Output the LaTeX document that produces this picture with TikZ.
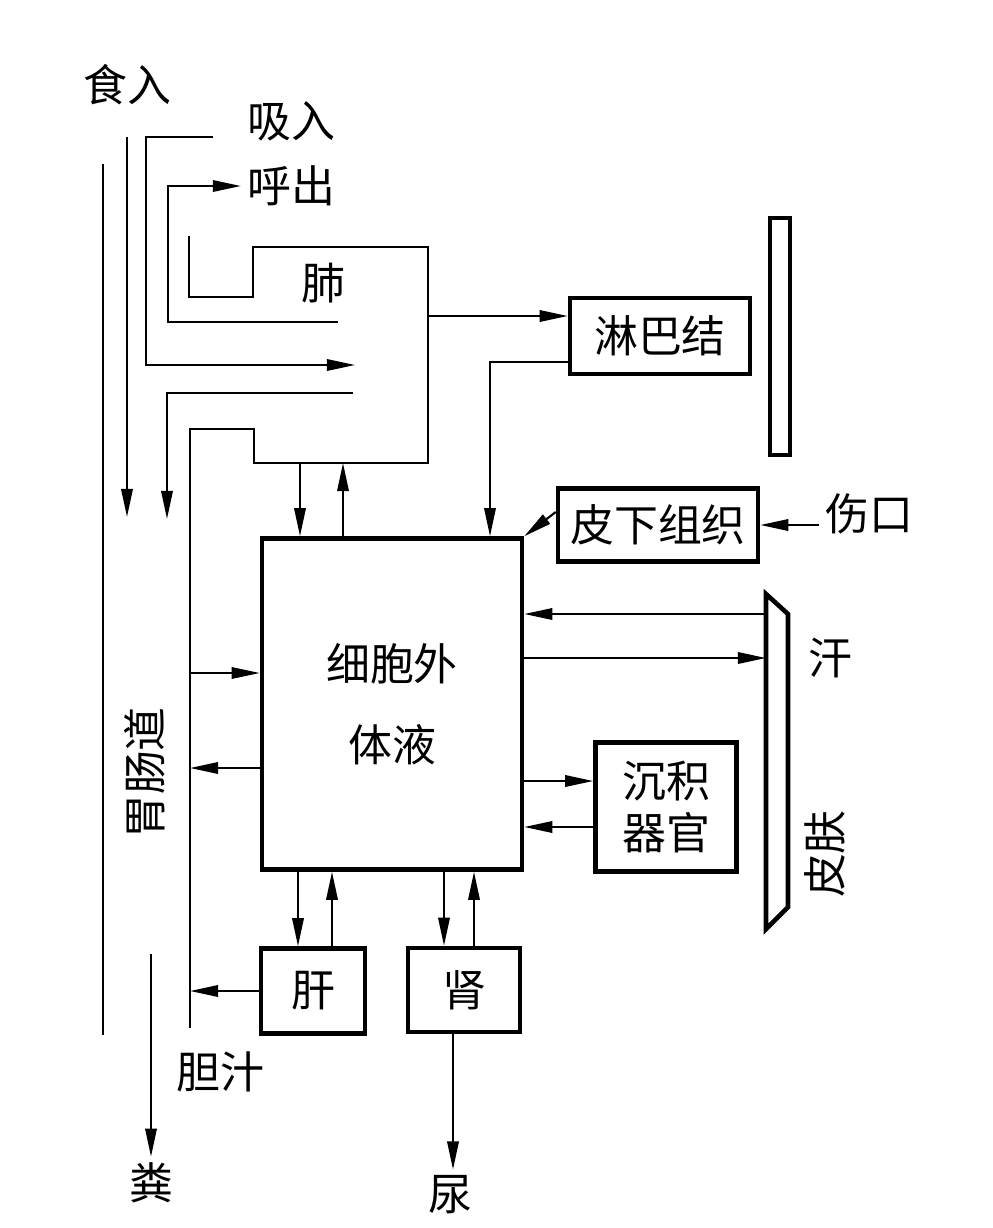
\documentclass[tikz,border=0pt]{standalone}
\usepackage{fontspec}
\newfontfamily\cjk{Noto Sans CJK SC}
\usetikzlibrary{positioning, arrows.meta}
\tikzset{
    txt/.style={font=\cjk\fontsize{25}{30}\selectfont, inner sep=0.333em},
    boxnode/.style={rectangle, draw, line width=2.6pt, inner sep=0pt, align=center, font=\cjk\fontsize{25}{30}\selectfont},
    arrow/.style={-{Triangle[length=16pt, width=6.5pt]}, line width=1.2pt},
    wall/.style={line width=1.2pt},
    thickwall/.style={line width=2.6pt, line join=miter},
}

\begin{document}
\begin{tikzpicture}[x=0.02cm, y=-0.02cm]
    \useasboundingbox (0,0) rectangle (992,1228);

    % Testi liberi
    \node[txt] (shiru) at (127,85) {食入};
    \node[txt] (xiru) at (291,121) {吸入};
    \node[txt] (huchu) at (291,186) {呼出};
    \node[txt] (fei) at (323,283) {肺};
    \node[txt] (shangkou) at (869,514) {伤口};
    \node[txt] (han) at (830,658) {汗};
    \node[txt, rotate=90] (pifu) at (825,854) {皮肤};
    \node[txt, rotate=90] (weichang) at (145,773) {胃肠道};
    \node[txt] (danzhi) at (220,1072) {胆汁};
    \node[txt] (fen) at (151,1183) {粪};
    \node[txt] (niao) at (450,1195) {尿};

    % Riquadri
    \node[boxnode, minimum width=5.2cm, minimum height=6.62cm, font=\cjk\fontsize{25}{46}\selectfont] (ecf) at (392,704) {细胞外\\体液};
    \node[boxnode, minimum width=3.6cm, minimum height=1.52cm] (linba) at (660,336) {淋巴结};
    \node[boxnode, minimum width=4.0cm, minimum height=1.46cm] (pixia) at (658,525) {皮下组织};
    \node[boxnode, minimum width=2.82cm, minimum height=2.58cm] (chenji) at (666,807) {沉积\\器官};
    \node[boxnode, minimum width=2.08cm, minimum height=1.7cm] (gan) at (313,991) {肝};
    \node[boxnode, minimum width=2.24cm, minimum height=1.68cm] (shen) at (464,990) {肾};

    % Polmone e tubo digerente
    \draw[wall] (189,236) -- (189,297) -- (253,297) -- (253,247) -- (428,247) -- (428,463)
        -- (254,463) -- (254,429) -- (190,429) -- (190,1028);
    \draw[wall] (103,164) -- (103,1035);
    \coordinate (lungR) at (428,316);
    \coordinate (lungB) at (428,463);
    \coordinate (inStart) at (213,137);
    \coordinate (inEnd) at (355,365);
    \coordinate (exStart) at (338,322);
    \coordinate (secStart) at (353,393);

    % Pelle e barriera
    \draw[thickwall] (770,218) rectangle (790,455);
    \draw[thickwall] (766,594) -- (788,614) -- (788,907) -- (766,929) -- cycle;
    \coordinate (skinL) at (766,600);

    % Respirazione e alimentazione
    \draw[arrow] (inStart) -- (146,137) |- (inEnd);
    \draw[arrow] (exStart) -- (168,322) |- (huchu.west);
    \draw[arrow] (shiru.south) ++(0,25) -- (127,517);
    \draw[arrow] (secStart) -- (167,393) -- (167,519);
    \draw[arrow] (151,954) -- (fen.north);

    % Scambi con il liquido extracellulare
    \draw[arrow] (lungB -| 300,0) -- (ecf.north -| 300,0);
    \draw[arrow] (ecf.north -| 343,0) -- (lungB -| 343,0);
    \draw[arrow] (lungR) -- (lungR -| linba.west);
    \draw[arrow] (linba.west |- 0,362) -| (ecf.north -| 490,0);
    \draw[arrow] (pixia.west |- 0,512) -- (ecf.north east);
    \draw[arrow] (shangkou.west |- pixia.east) -- (pixia.east);
    \draw[arrow] (skinL |- 0,614) -- (ecf.east |- 0,614);
    \draw[arrow] (ecf.east |- 0,658) -- (skinL |- 0,658);
    \draw[arrow] (ecf.east |- 0,781) -- (chenji.west |- 0,781);
    \draw[arrow] (chenji.west |- 0,827) -- (ecf.east |- 0,827);
    \draw[arrow] (190,673) -- (ecf.west |- 0,673);
    \draw[arrow] (ecf.west |- 0,768) -- (190,768);
    \draw[arrow] (ecf.south -| 298,0) -- (gan.north -| 298,0);
    \draw[arrow] (gan.north -| 332,0) -- (ecf.south -| 332,0);
    \draw[arrow] (ecf.south -| 444,0) -- (shen.north -| 444,0);
    \draw[arrow] (shen.north -| 474,0) -- (ecf.south -| 474,0);
    \draw[arrow] (gan.west) -- (gan.west -| 190,0);
    \draw[arrow] (shen.south -| 453,0) -- (niao.north -| 453,0);
\end{tikzpicture}
\end{document}
